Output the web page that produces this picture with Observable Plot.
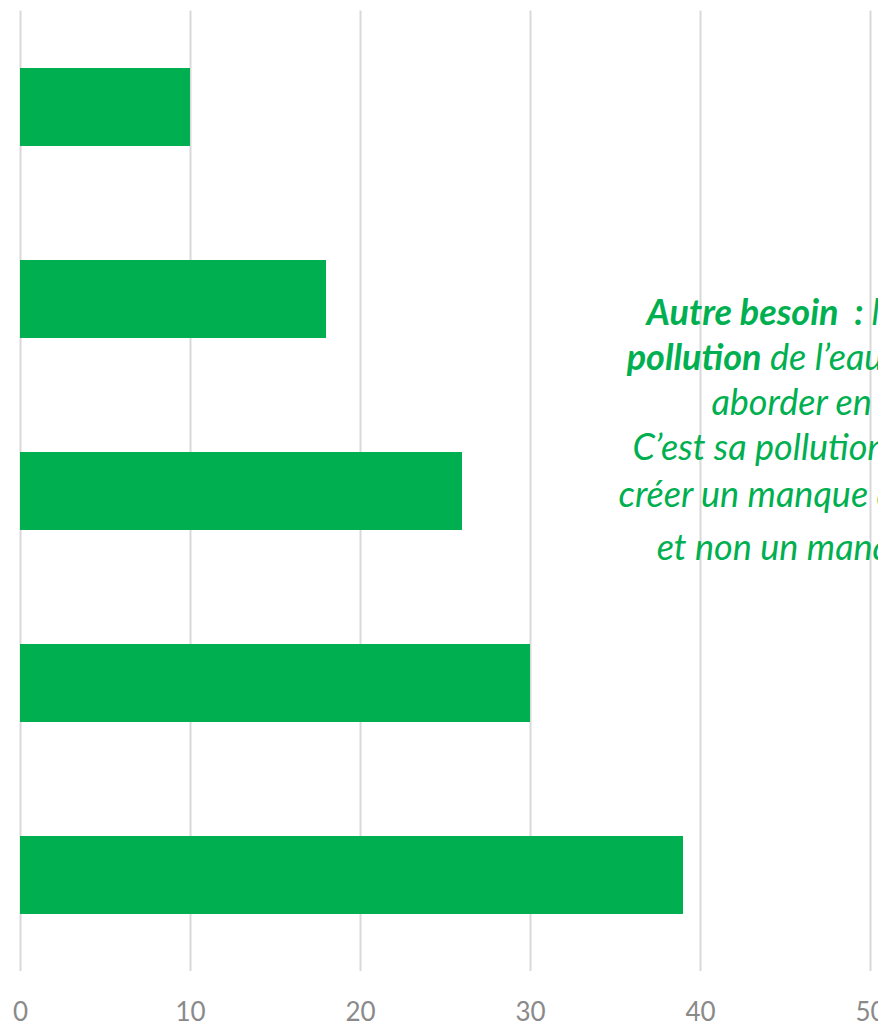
<!DOCTYPE html>
<html><head><meta charset="utf-8">
<script src="https://cdn.jsdelivr.net/npm/d3@7"></script>
<script src="https://cdn.jsdelivr.net/npm/@observablehq/plot@0.6"></script>
<style>
html,body{margin:0;padding:0;background:#fff;overflow:hidden;width:878px;height:1025px}
#chart svg{display:block}
</style>
</head><body><div id="chart"></div>
<script>
// Data (top to bottom)
const categories = ["Réponse 1", "Réponse 2", "Réponse 3", "Réponse 4", "Réponse 5"];
const values = [10, 18, 26, 30, 39];
const xTicks = [0, 10, 20, 30, 40, 50];
// Annotation (segments: [text, bold])
const noteLines = [
  [["Autre besoin  : ", true], ["la question", false]],
  [["pollution", true], [" de l\u2019eau, qui reste à", false]],
  [["aborder en cours.", false]],
  [["C\u2019est sa pollution qui pourra", false]],
  [["créer un manque d\u2019eau propre", false]],
  [["et non un manque d\u2019eau.", false]]
];
const noteCenterX = 48.25;

const green = "#00AF50";
const data = categories.map((c, i) => ({category: c, value: values[i]}));

const chart = Plot.plot({
  width: 878,
  height: 1025,
  marginTop: 10.5,
  marginBottom: 54,
  marginLeft: 20,
  marginRight: 8,
  style: {fontFamily: "Lato, sans-serif", background: "#fff"},
  x: {domain: [0, 50], ticks: xTicks, label: null},
  y: {domain: categories, paddingInner: 0.594, paddingOuter: 0.297, axis: null},
  marks: [
    Plot.gridX(xTicks, {stroke: "#d9d9d9", strokeWidth: 2, strokeOpacity: 1}),
    Plot.barX(data, {x: "value", y: "category", fill: green}),
    Plot.axisX(xTicks, {tickSize: 0, tickPadding: 31, fontSize: 26, fill: "#8a8a8a", label: null})
  ]
});
document.getElementById("chart").appendChild(chart);

// annotation
const svg = d3.select(chart);
const cx = chart.scale("x").apply(noteCenterX);
const baselines = [325, 370, 415, 460, 507, 560];
const g = svg.append("g")
  .attr("font-family", "Lato, sans-serif")
  .attr("font-size", 36)
  .attr("font-style", "italic")
  .attr("fill", green)
  .attr("text-anchor", "middle");
noteLines.forEach((segs, i) => {
  const t = g.append("text").attr("x", cx).attr("y", baselines[i]).style("white-space", "pre");
  segs.forEach(([s, b]) => t.append("tspan").attr("font-weight", b ? "bold" : "normal").text(s));
});
</script>
</body></html>
